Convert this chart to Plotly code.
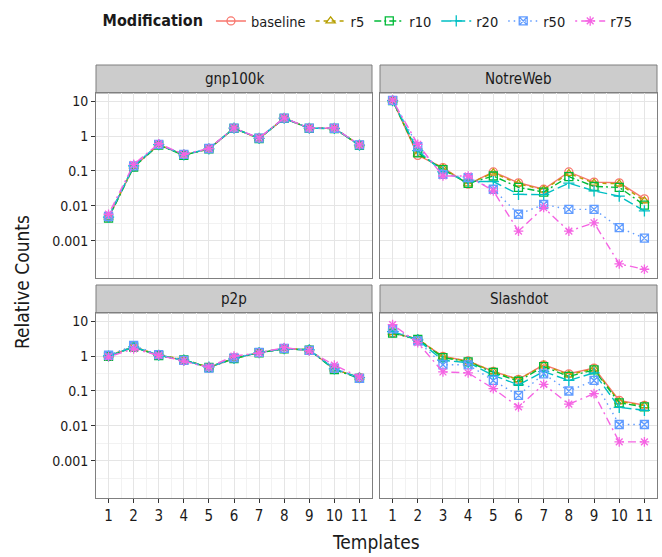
import plotly.graph_objects as go
import math

templates = list(range(1, 12))
series_names = ["baseline", "r5", "r10", "r20", "r50", "r75"]
colors = ["#F8766D", "#B79F00", "#00BA38", "#00BFC4", "#619CFF", "#F564E3"]
symbols = ["circle-open", "triangle-up-open", "square-open", "cross-thin-open", "square-x-open", "asterisk-open"]
dashes = ["solid", "4px,4px", "7px,3px,2px,3px", "10px,4px", "1.5px,4px", "2px,4px,8px,4px"]

panel_names = ["gnp100k", "NotreWeb", "p2p", "Slashdot"]

gnp100k = {
    "baseline": [0.0046, 0.13, 0.56, 0.29, 0.43, 1.65, 0.85, 3.2, 1.65, 1.65, 0.55],
    "r5":       [0.0047, 0.135, 0.57, 0.29, 0.42, 1.7, 0.84, 3.25, 1.7, 1.68, 0.55],
    "r10":      [0.0045, 0.13, 0.55, 0.28, 0.43, 1.66, 0.85, 3.2, 1.66, 1.64, 0.54],
    "r20":      [0.0048, 0.14, 0.57, 0.29, 0.43, 1.68, 0.86, 3.22, 1.67, 1.66, 0.55],
    "r50":      [0.005, 0.14, 0.58, 0.30, 0.44, 1.68, 0.87, 3.25, 1.68, 1.67, 0.56],
    "r75":      [0.0058, 0.155, 0.6, 0.30, 0.44, 1.7, 0.88, 3.3, 1.7, 1.7, 0.56],
}
notreweb = {
    "baseline": [10.5, 0.28, 0.125, 0.042, 0.094, 0.046, 0.030, 0.094, 0.048, 0.046, 0.016],
    "r5":       [10.4, 0.30, 0.12, 0.043, 0.088, 0.043, 0.029, 0.085, 0.045, 0.043, 0.014],
    "r10":      [10.3, 0.33, 0.11, 0.044, 0.072, 0.034, 0.025, 0.069, 0.036, 0.034, 0.0105],
    "r20":      [10.3, 0.38, 0.095, 0.05, 0.05, 0.0215, 0.021, 0.045, 0.027, 0.019, 0.0072],
    "r50":      [10.5, 0.5, 0.08, 0.065, 0.03, 0.0058, 0.011, 0.008, 0.008, 0.0024, 0.0012],
    "r75":      [10.6, 0.58, 0.072, 0.072, 0.027, 0.0019, 0.009, 0.0019, 0.0033, 0.00022, 0.000155],
}
p2p = {
    "baseline": [1.0, 1.8, 1.05, 0.75, 0.47, 0.85, 1.25, 1.6, 1.5, 0.42, 0.24],
    "r5":       [1.02, 1.85, 1.08, 0.8, 0.48, 0.86, 1.27, 1.62, 1.55, 0.42, 0.24],
    "r10":      [0.98, 1.8, 1.02, 0.78, 0.47, 0.84, 1.24, 1.6, 1.48, 0.41, 0.23],
    "r20":      [1.0, 1.82, 1.05, 0.76, 0.48, 0.86, 1.25, 1.62, 1.5, 0.43, 0.24],
    "r50":      [1.05, 2.0, 1.1, 0.75, 0.45, 0.88, 1.27, 1.65, 1.45, 0.45, 0.23],
    "r75":      [0.95, 1.6, 1.05, 0.72, 0.48, 1.0, 1.22, 1.75, 1.4, 0.55, 0.25],
}
slashdot = {
    "baseline": [4.6, 3.0, 0.98, 0.72, 0.365, 0.215, 0.56, 0.31, 0.45, 0.054, 0.039],
    "r5":       [4.7, 3.1, 0.95, 0.7, 0.36, 0.21, 0.55, 0.29, 0.43, 0.05, 0.038],
    "r10":      [4.5, 3.0, 0.9, 0.68, 0.34, 0.19, 0.5, 0.26, 0.4, 0.046, 0.035],
    "r20":      [5.0, 2.9, 0.75, 0.65, 0.28, 0.15, 0.36, 0.2, 0.33, 0.034, 0.028],
    "r50":      [6.0, 2.7, 0.56, 0.56, 0.2, 0.075, 0.31, 0.1, 0.2, 0.011, 0.011],
    "r75":      [7.9, 2.4, 0.35, 0.33, 0.117, 0.035, 0.155, 0.042, 0.084, 0.0035, 0.0035],
}
panel_data = [gnp100k, notreweb, p2p, slashdot]

y_tickvals = [10, 1, 0.1, 0.01, 0.001]
y_ticktext = ["10", "1", "0.1", "0.01", "0.001"]

W, H = 662, 557
FONT = "DejaVu Sans Condensed, Liberation Sans Narrow, sans-serif"

# panel geometry in pixels
cols = [(96, 372), (380, 657)]
rows = [(93, 278), (313, 498)]
strip_h = 28

fig = go.Figure()

for p, (name, data) in enumerate(zip(panel_names, panel_data)):
    ax = "" if p == 0 else str(p + 1)
    for i, s in enumerate(series_names):
        fig.add_trace(go.Scatter(
            x=templates, y=data[s], name=s,
            mode="lines+markers",
            line=dict(color=colors[i], width=1.4, dash=dashes[i]),
            marker=dict(symbol=symbols[i], color=colors[i], size=8,
                        line=dict(width=1.3, color=colors[i])),
            legendgroup=s, showlegend=(p == 0),
            xaxis="x" + ax, yaxis="y" + ax,
        ))

layout = dict(
    width=W, height=H,
    margin=dict(l=0, r=0, t=0, b=0, autoexpand=False),
    paper_bgcolor="white", plot_bgcolor="white",
    font=dict(family=FONT, size=14, color="#1a1a1a"),
    showlegend=True,
    legend=dict(orientation="h", x=0.152, y=1 - 5 / H, xanchor="left", yanchor="top",
                title=dict(text="<b>Modification</b>", side="left", font=dict(size=16)),
                font=dict(size=14.5), itemwidth=30, tracegroupgap=0),
)

shapes = []
annotations = []
minor_y = [10 ** (k + 0.5) for k in range(-5, 2)]
for p in range(4):
    r, c = divmod(p, 2)
    x0, x1 = cols[c]
    y0, y1 = rows[r]
    ax = "" if p == 0 else str(p + 1)
    xd = [x0 / W, x1 / W]
    yd = [1 - y1 / H, 1 - y0 / H]
    layout["xaxis" + ax] = dict(
        domain=xd, anchor="y" + ax, range=[0.5, 11.5],
        tickmode="array", tickvals=templates,
        ticktext=[str(t) for t in templates] if r == 1 else [""] * 11,
        showticklabels=(r == 1),
        ticks="outside" if r == 1 else "", ticklen=4, tickwidth=1, tickcolor="#333333",
        showgrid=True, gridcolor="#E5E5E5", gridwidth=1,
        minor=dict(tickvals=[t + 0.5 for t in range(0, 12)], showgrid=True,
                   gridcolor="#F2F2F2", gridwidth=0.7, ticks=""),
        showline=True, mirror=True, linecolor="#7F7F7F", linewidth=1,
        zeroline=False, tickfont=dict(size=15, color="#1a1a1a"),
    )
    layout["yaxis" + ax] = dict(
        domain=yd, anchor="x" + ax, type="log", range=[-4.06, 1.23],
        tickmode="array", tickvals=y_tickvals, ticktext=y_ticktext,
        showticklabels=(c == 0),
        ticks="outside" if c == 0 else "", ticklen=4, tickwidth=1, tickcolor="#333333",
        showgrid=True, gridcolor="#E5E5E5", gridwidth=1,
        minor=dict(tickvals=minor_y, showgrid=True, gridcolor="#F2F2F2",
                   gridwidth=0.7, ticks=""),
        showline=True, mirror=True, linecolor="#7F7F7F", linewidth=1,
        zeroline=False, tickfont=dict(size=14, color="#1a1a1a"),
    )
    # strip
    shapes.append(dict(type="rect", xref="paper", yref="paper",
                       x0=x0 / W, x1=x1 / W, y0=1 - y0 / H, y1=1 - (y0 - strip_h) / H,
                       fillcolor="#CCCCCC", line=dict(color="#7F7F7F", width=1), layer="below"))
    annotations.append(dict(text=panel_names[p], xref="paper", yref="paper",
                            x=(x0 + x1) / 2 / W, y=1 - (y0 - strip_h / 2) / H,
                            xanchor="center", yanchor="middle", showarrow=False,
                            font=dict(size=15, color="#1a1a1a")))

annotations.append(dict(text="Relative Counts", xref="paper", yref="paper",
                        x=22 / W, y=1 - 282 / H, textangle=-90, showarrow=False,
                        xanchor="center", yanchor="middle", font=dict(size=19)))
annotations.append(dict(text="Templates", xref="paper", yref="paper",
                        x=376 / W, y=1 - 542 / H, showarrow=False,
                        xanchor="center", yanchor="middle", font=dict(size=19)))
layout["shapes"] = shapes
layout["annotations"] = annotations
fig.update_layout(**layout)
fig.write_html("out.html")
